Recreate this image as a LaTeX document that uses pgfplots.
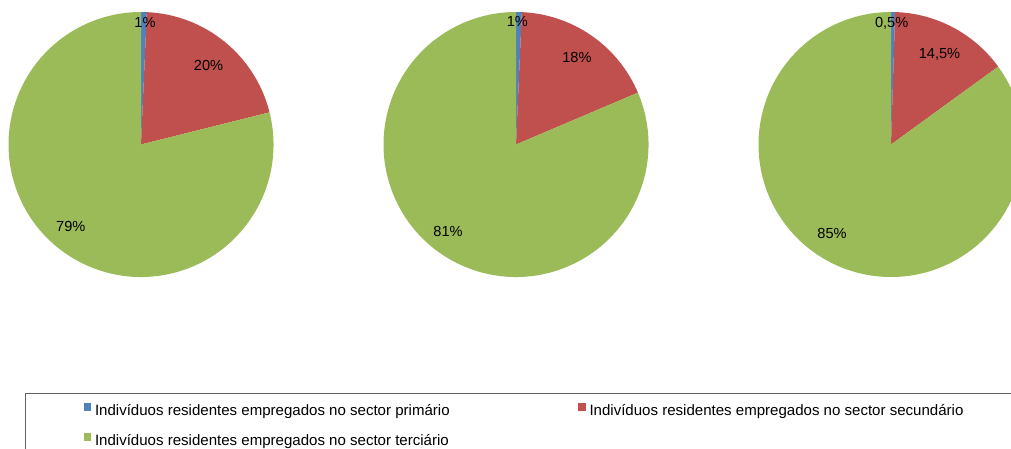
\documentclass[border=0pt]{standalone}
\usepackage{pgfplots}
\pgfplotsset{compat=1.18}
\usepackage{fontspec}
\setmainfont{Liberation Sans}
\definecolor{cPrim}{HTML}{4F81BD}
\definecolor{cSec}{HTML}{C0504D}
\definecolor{cTer}{HTML}{9BBB59}
\newcommand\R{132.5pt}
% #1 primario, #2 secundario, #3 terciario (percent)
\newcommand\pieslices[3]{%
  \fill[cPrim] (axis cs:0,0) -- (axis cs:0,1) arc[start angle=90,end angle={90-3.6*#1},radius=\R] -- cycle;
  \fill[cSec] (axis cs:0,0) -- (axis cs:{cos(90-3.6*#1)},{sin(90-3.6*#1)}) arc[start angle={90-3.6*#1},end angle={90-3.6*(#1+#2)},radius=\R] -- cycle;
  \fill[cTer] (axis cs:0,0) -- (axis cs:{cos(90-3.6*(#1+#2))},{sin(90-3.6*(#1+#2))}) arc[start angle={90-3.6*(#1+#2)},end angle={90-3.6*(#1+#2+#3)},radius=\R] -- cycle;
}
\pgfplotsset{pieaxis/.style={hide axis, scale only axis, width=265pt, height=265pt,
  xmin=-1,xmax=1,ymin=-1,ymax=1, clip=false, anchor=center,
  every node/.append style={font=\fontsize{14.6}{17}\selectfont}}}
\begin{document}
\begin{tikzpicture}[font=\fontsize{14.6}{17}\selectfont]
\begin{axis}[pieaxis, at={(141pt,-144.5pt)},
  legend columns=2, legend cell align=left,
  legend style={draw=none, fill=none, inner sep=0pt, column sep=0pt, row sep=14pt,
    at={(0.2823,-0.4755)}, anchor=north west,
    nodes={inner sep=0pt, text height=11pt, text depth=4pt, font=\fontsize{15.05}{17}\selectfont}},
  legend image code/.code={\fill[#1] (0pt,1pt) rectangle (7.7pt,8.4pt); \path (11.5pt,0pt);}]
\pieslices{0.7}{20.4}{78.9}
\node at (axis cs:0.03,0.92) {1\%};
\node at (axis cs:0.51,0.60) {20\%};
\node at (axis cs:-0.53,-0.615) {79\%};
\addlegendimage{fill=cPrim, draw=none}
\addlegendentry{\makebox[483pt][l]{Indivíduos residentes empregados no sector primário}}
\addlegendimage{fill=cSec, draw=none}
\addlegendentry{Indivíduos residentes empregados no sector secundário}
\addlegendimage{fill=cTer, draw=none}
\addlegendentry{Indivíduos residentes empregados no sector terciário}
\end{axis}
\begin{axis}[pieaxis, at={(516pt,-144.5pt)}]
\pieslices{0.7}{17.9}{81.4}
\node at (axis cs:0.01,0.925) {1\%};
\node at (axis cs:0.46,0.657) {18\%};
\node at (axis cs:-0.513,-0.66) {81\%};
\end{axis}
\begin{axis}[pieaxis, at={(891pt,-144.5pt)}]
\pieslices{0.5}{14.5}{85}
\node at (axis cs:0.005,0.915) {0,5\%};
\node at (axis cs:0.366,0.683) {14,5\%};
\node at (axis cs:-0.445,-0.675) {85\%};
\end{axis}
\draw[black!62, line width=1.1pt] (25.5pt,-600pt) -- (25.5pt,-393.5pt) -- (1200pt,-393.5pt);
\pgfresetboundingbox
\useasboundingbox (0pt,0pt) rectangle (1011pt,-449pt);
\end{tikzpicture}
\end{document}
